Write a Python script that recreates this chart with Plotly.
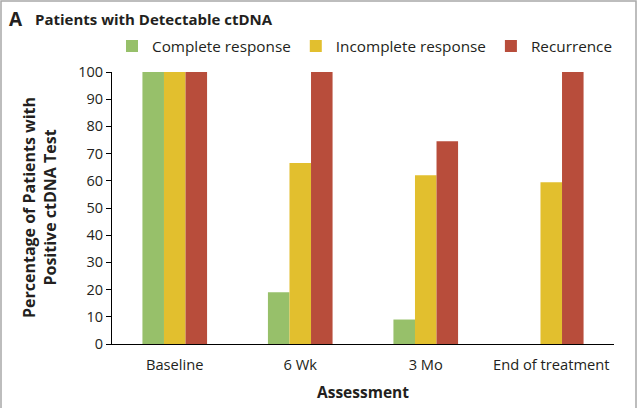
import plotly.graph_objects as go

categories = ["Baseline", "6 Wk", "3 Mo", "End of treatment"]
series_names = ["Complete response", "Incomplete response", "Recurrence"]
complete = [100, 19, 9, None]
incomplete = [100, 66.5, 62, 59.5]
recurrence = [100, 100, 74.5, 100]
colors = ["#97C06A", "#E2BF2E", "#B84D3B"]
y_ticks = [0, 10, 20, 30, 40, 50, 60, 70, 80, 90, 100]

FONT = "Open Sans"
TXT = "#231F20"

fig = go.Figure()
for name, vals, col in zip(series_names, [complete, incomplete, recurrence], colors):
    fig.add_trace(go.Bar(x=categories, y=vals, name=name, marker=dict(color=col, line=dict(width=0))))

L, R, T, B = 112, 26, 72, 64
W, H = 640, 408
pw, ph = W - L - R, H - T - B

def px(x):
    return (x - L) / pw

def py(y):
    return (H - B - y) / ph

fig.update_layout(
    width=W, height=H,
    margin=dict(l=L, r=R, t=T, b=B, autoexpand=False),
    paper_bgcolor="white", plot_bgcolor="white",
    barmode="group", bargap=0.485, bargroupgap=0,
    font=dict(family=FONT, size=14, color=TXT),
    showlegend=True,
    legend=dict(orientation="h", x=px(112), xanchor="left", y=py(46), yanchor="middle",
                font=dict(family=FONT, size=15.3, color=TXT), traceorder="normal",
                itemclick=False, bgcolor="rgba(0,0,0,0)"),
    xaxis=dict(range=[-0.5, 3.5], showline=True, linecolor="black", linewidth=1.2,
               ticks="", showgrid=False, zeroline=False, ticklabelstandoff=7, automargin=False,
               tickfont=dict(family=FONT, size=14.7, color=TXT),
               title=dict(text="<b>Assessment</b>", font=dict(family=FONT, size=15.5, color=TXT), standoff=14)),
    yaxis=dict(range=[0, 100], tickvals=y_ticks, showline=True, linecolor="black", linewidth=1.2,
               ticks="outside", ticklen=5, tickcolor="black", showgrid=False, zeroline=False,
               automargin=False, tickfont=dict(family=FONT, size=14.5, color=TXT)),
)

fig.add_annotation(text="<b>Percentage of Patients with<br>Positive ctDNA Test</b>",
                   xref="paper", yref="paper", x=px(39), y=py(208), textangle=-90,
                   showarrow=False, font=dict(family=FONT, size=16, color=TXT),
                   xanchor="center", yanchor="middle", align="center")
fig.add_annotation(text="<b>A</b>", xref="paper", yref="paper", x=px(7), y=py(19),
                   showarrow=False, font=dict(family=FONT, size=19, color=TXT),
                   xanchor="left", yanchor="middle")
fig.add_annotation(text="<b>Patients with Detectable ctDNA</b>", xref="paper", yref="paper",
                   x=px(33), y=py(19), showarrow=False,
                   font=dict(family=FONT, size=15, color=TXT), xanchor="left", yanchor="middle")
fig.add_shape(type="rect", xref="paper", yref="paper", x0=px(1), x1=px(636), y0=py(412), y1=py(1),
              line=dict(color="#A8A8A8", width=1.5), fillcolor="rgba(0,0,0,0)", layer="below")

fig.write_html("out.html", config={"displayModeBar": False},
               post_script="document.body.style.margin='0';document.body.style.overflow='hidden';")
